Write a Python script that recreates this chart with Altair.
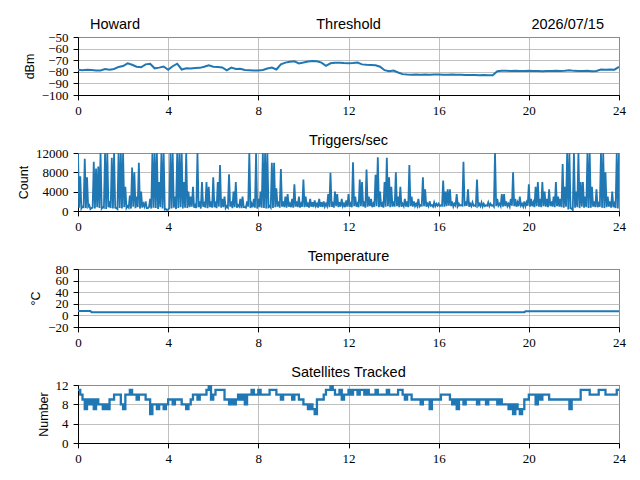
import altair as alt
import pandas as pd

station = "Howard"
date_label = "2026/07/15"
panel_titles = ["Threshold", "Triggers/sec", "Temperature", "Satellites Tracked"]
x_ticks = [0, 4, 8, 12, 16, 20, 24]

# Threshold (dBm), sampled every 0.2 h
thr_values = [
    -78.3, -78.6, -78.2, -78.5, -78.8, -78.9, -77.7, -78.2, -77.6, -75.8,
    -75.0, -72.7, -73.9, -75.6, -76.1, -73.6, -73.1, -77.0, -76.4, -75.4,
    -78.3, -75.2, -73.0, -78.0, -76.9, -77.1, -76.8, -76.6, -75.7, -74.4,
    -75.6, -75.8, -76.3, -78.8, -76.4, -77.6, -77.4, -78.4, -78.6, -78.9,
    -78.8, -78.4, -77.1, -76.4, -78.0, -73.5, -72.1, -71.3, -71.0, -72.8,
    -72.0, -71.1, -70.6, -70.9, -72.1, -74.8, -72.7, -72.3, -72.1, -72.4,
    -72.6, -72.5, -72.0, -73.6, -74.0, -74.1, -74.3, -75.6, -78.6, -79.6,
    -78.9, -80.6, -82.0, -82.4, -82.6, -82.4, -82.6, -82.3, -82.5, -82.3,
    -82.4, -82.5, -82.6, -82.4, -82.6, -82.6, -82.7, -82.8, -82.7, -82.9,
    -82.8, -82.9, -82.9, -79.5, -79.2, -79.1, -79.3, -79.2, -79.4, -79.3,
    -79.2, -79.4, -79.3, -79.5, -79.3, -79.4, -79.2, -79.3, -79.1, -78.6,
    -79.2, -79.3, -79.4, -79.2, -79.5, -79.3, -78.1, -78.3, -78.0, -78.2,
    -75.7,
]
thr_hours = [round(i * 0.2, 1) for i in range(len(thr_values))]

# Triggers/sec, readings on the tenth of an hour
trig_values = [
    12000, 7200, 900, 10800, 7000, 1200, 600, 10200, 8800, 9200,
    12000, 800, 12000, 12000, 1500, 11000, 12000, 600, 12000, 12000,
    12000, 5000, 1000, 3200, 9000, 8000, 3000, 10000, 4000, 1500,
    2000, 600, 2500, 12000, 12000, 12000, 6000, 12000, 12000, 400,
    300, 12000, 12000, 3000, 12000, 12000, 12000, 6000, 12000, 4000,
    3000, 5000, 1200, 12000, 2000, 6000, 1500, 6000, 5000, 2000,
    7000, 1500, 6000, 9500, 2500, 3000, 1000, 7600, 2000, 4000,
    6000, 1200, 2500, 3000, 800, 2000, 12000, 1500, 2500, 12000,
    2500, 4000, 12000, 12000, 12000, 1000, 10000, 10000, 4700, 2000,
    8700, 2000, 3000, 3500, 1500, 2500, 5500, 2000, 3000, 1500,
    6500, 3000, 1500, 2500, 1800, 2200, 1500, 2500, 1800, 2000,
    1500, 3500, 7900, 1500, 4000, 3500, 1800, 2500, 1500, 2200,
    3500, 1500, 10100, 3000, 1500, 6500, 6000, 2000, 8600, 3000,
    2500, 1500, 7500, 11100, 4000, 1500, 6000, 11000, 7000, 5000,
    2000, 8000, 3000, 5000, 1500, 2500, 2000, 9500, 3000, 2000,
    1500, 2500, 1200, 7000, 4500, 1500, 2000, 1200, 1800, 1500,
    1500, 1200, 6300, 4000, 4500, 4500, 2000, 1500, 3500, 1500,
    1200, 10200, 2000, 4500, 1500, 1800, 1200, 6500, 1500, 1800,
    1500, 1200, 1800, 1500, 1200, 12000, 2500, 1500, 3500, 3500,
    2000, 1500, 2500, 8000, 2500, 1800, 3000, 1500, 2000, 1800,
    5500, 2500, 1800, 5000, 6000, 2500, 6000, 4000, 2500, 4500,
    2000, 3000, 6000, 3000, 2500, 9700, 5000, 12000, 12000, 500,
    12000, 4000, 12000, 6000, 6000, 3000, 12000, 12000, 5000, 2000,
    4500, 1500, 12000, 12000, 8000, 3000, 2000, 4000, 1500, 12000,
    12000,
]
trig_hours = [round(i * 0.1, 1) for i in range(len(trig_values))]

# Triggers/sec, low readings in between (h + 0.05)
trig_mid_values = [
    700, 500, 800, 600, 900, 400, 700, 500, 800, 600,
    500, 700, 400, 800, 600, 500, 700, 400, 600, 500,
    800, 600, 700, 500, 900, 600, 800, 500, 700, 900,
    600, 800, 500, 700, 600, 400, 800, 500, 300, 200,
    600, 500, 700, 400, 600, 800, 500, 700, 600, 800,
    900, 700, 600, 800, 500, 900, 700, 600, 800, 700,
    800, 600, 900, 700, 800, 600, 700, 900, 600, 800,
    700, 900, 600, 800, 700, 900, 600, 800, 700, 500,
    800, 700, 600, 500, 800, 700, 600, 800, 900, 700,
    900, 800, 700, 900, 800, 700, 900, 800, 700, 900,
    800, 900, 700, 900, 800, 1000, 700, 900, 800, 900,
    1000, 800, 900, 700, 1000, 800, 900, 1000, 800, 900,
    900, 800, 1000, 900, 800, 1000, 900, 700, 900, 1000,
    800, 900, 1000, 800, 900, 700, 900, 1000, 800, 900,
    900, 1000, 800, 900, 1000, 900, 800, 1000, 900, 1000,
    1000, 900, 1100, 1000, 900, 1000, 1100, 900, 1000, 1100,
    1000, 1100, 900, 1000, 1100, 1000, 900, 1100, 1000, 1100,
    1100, 1000, 1100, 900, 1000, 1100, 1000, 1100, 1000, 900,
    1000, 1100, 1000, 1100, 900, 1000, 1100, 1000, 900, 1000,
    1000, 900, 1100, 1000, 900, 1000, 1100, 900, 1000, 1100,
    900, 1000, 800, 1000, 900, 800, 1000, 900, 800, 1000,
    900, 800, 1000, 900, 800, 700, 900, 300, 600, 200,
    700, 800, 600, 900, 700, 800, 600, 700, 900, 800,
    800, 900, 700, 600, 800, 900, 700, 800, 600, 500,
]
trig_mid_hours = [round(i * 0.1 + 0.05, 2) for i in range(len(trig_mid_values))]

# Temperature (degC)
temp_hours = [0, 0.55, 0.6, 19.8, 19.85, 24]
temp_values = [7.5, 7.5, 5.5, 5.5, 7.0, 7.0]

# Satellites tracked, sampled every 0.1 h
sat_values = [
    11, 10, 9, 7, 9, 8, 9, 7, 9, 8,
    8, 7, 8, 7, 9, 9, 10, 10, 10, 8,
    7, 10, 10, 11, 10, 10, 9, 10, 10, 10,
    9, 9, 6, 8, 8, 7, 8, 8, 7, 8,
    9, 9, 8, 9, 9, 9, 8, 8, 7, 8,
    9, 10, 10, 9, 10, 10, 10, 11, 12, 9,
    10, 11, 11, 11, 11, 9, 9, 8, 9, 8,
    9, 10, 9, 10, 8, 10, 10, 11, 10, 10,
    11, 10, 10, 10, 10, 11, 11, 11, 10, 10,
    9, 10, 10, 10, 10, 9, 10, 10, 9, 9,
    8, 8, 7, 8, 7, 6, 9, 9, 9, 10,
    11, 11, 12, 11, 10, 10, 11, 9, 10, 10,
    11, 10, 11, 11, 10, 11, 11, 10, 11, 10,
    10, 10, 11, 10, 10, 10, 10, 11, 10, 10,
    10, 10, 11, 11, 10, 9, 10, 10, 9, 9,
    9, 9, 8, 9, 9, 9, 7, 9, 9, 9,
    9, 10, 10, 10, 10, 9, 8, 9, 7, 9,
    9, 8, 9, 9, 9, 9, 9, 8, 9, 9,
    9, 8, 9, 9, 9, 9, 8, 9, 8, 8,
    8, 7, 8, 6, 8, 7, 6, 7, 9, 9,
    10, 10, 10, 8, 10, 9, 10, 10, 10, 9,
    9, 9, 9, 9, 9, 9, 9, 9, 7, 9,
    9, 9, 9, 11, 11, 11, 11, 10, 10, 10,
    10, 11, 11, 11, 10, 10, 10, 10, 10, 11,
    11,
]
sat_hours = [round(i * 0.1, 1) for i in range(len(sat_values))]

BLUE = "#1f77b4"
W, H = 541, 58
TFONT = "Liberation Sans"
LFONT = "'Liberation Serif', 'DejaVu Serif', serif"


def label_text(txt, x, align):
    return alt.Chart(pd.DataFrame({"t": [txt]})).mark_text(
        align=align, baseline="alphabetic", font=TFONT, fontSize=14.5, color="black"
    ).encode(text="t:N", x=alt.value(x), y=alt.value(-8))


def panel(df, title, ytitle, ydomain, yticks, fmt="d", interp="linear", sw=2):
    xenc = alt.X("h:Q", scale=alt.Scale(domain=[0, 24], nice=False),
                 axis=alt.Axis(values=x_ticks, title=None, format="d",
                               labelFont=LFONT, labelPadding=5))
    yenc = alt.Y("v:Q", scale=alt.Scale(domain=ydomain, nice=False, zero=False),
                 axis=alt.Axis(values=yticks, title=ytitle, format=fmt,
                               labelFont=LFONT, labelPadding=5))
    line = alt.Chart(df).mark_line(color=BLUE, strokeWidth=sw, clip=True,
                                   interpolate=interp).encode(x=xenc, y=yenc)
    return alt.layer(line, label_text(title, W / 2, "center")).properties(width=W, height=H)


df_thr = pd.DataFrame({"h": thr_hours, "v": thr_values})
df_trig = pd.concat([
    pd.DataFrame({"h": trig_hours, "v": trig_values}),
    pd.DataFrame({"h": trig_mid_hours, "v": trig_mid_values}),
]).sort_values("h").reset_index(drop=True)
df_temp = pd.DataFrame({"h": temp_hours, "v": temp_values})
df_sat = pd.DataFrame({"h": sat_hours, "v": sat_values})

p1 = alt.layer(
    panel(df_thr, panel_titles[0], "dBm", [-100, -50], [-100, -90, -80, -70, -60, -50]),
    label_text(station, 12, "left"),
    label_text(date_label, 526, "right"),
)
p2 = panel(df_trig, panel_titles[1], "Count", [0, 12000], [0, 4000, 8000, 12000], sw=1.8)
p3 = panel(df_temp, panel_titles[2], "°C", [-20, 80], [-20, 0, 20, 40, 60, 80])
p4 = panel(df_sat, panel_titles[3], "Number", [0, 12], [0, 4, 8, 12], interp="step-after",
           sw=2.3)

chart = alt.vconcat(p1, p2, p3, p4, spacing=58, bounds="flush").properties(
    padding={"left": 9, "top": 8, "right": 5, "bottom": 5}
).configure_view(
    stroke="black", strokeWidth=1
).configure_axis(
    grid=True, gridColor="#b0b0b0", gridWidth=0.8,
    domainColor="black", domainWidth=1,
    tickColor="black", tickWidth=1, tickSize=4.9,
    labelFont=LFONT, labelFontSize=13,
    labelColor="black", labelFlush=False, labelOverlap=False,
    titleFont=TFONT, titleFontSize=12.5, titleFontWeight="normal",
    titleColor="black", titlePadding=5
)

chart.save("out.html", embed_options={"renderer": "svg", "actions": False})
